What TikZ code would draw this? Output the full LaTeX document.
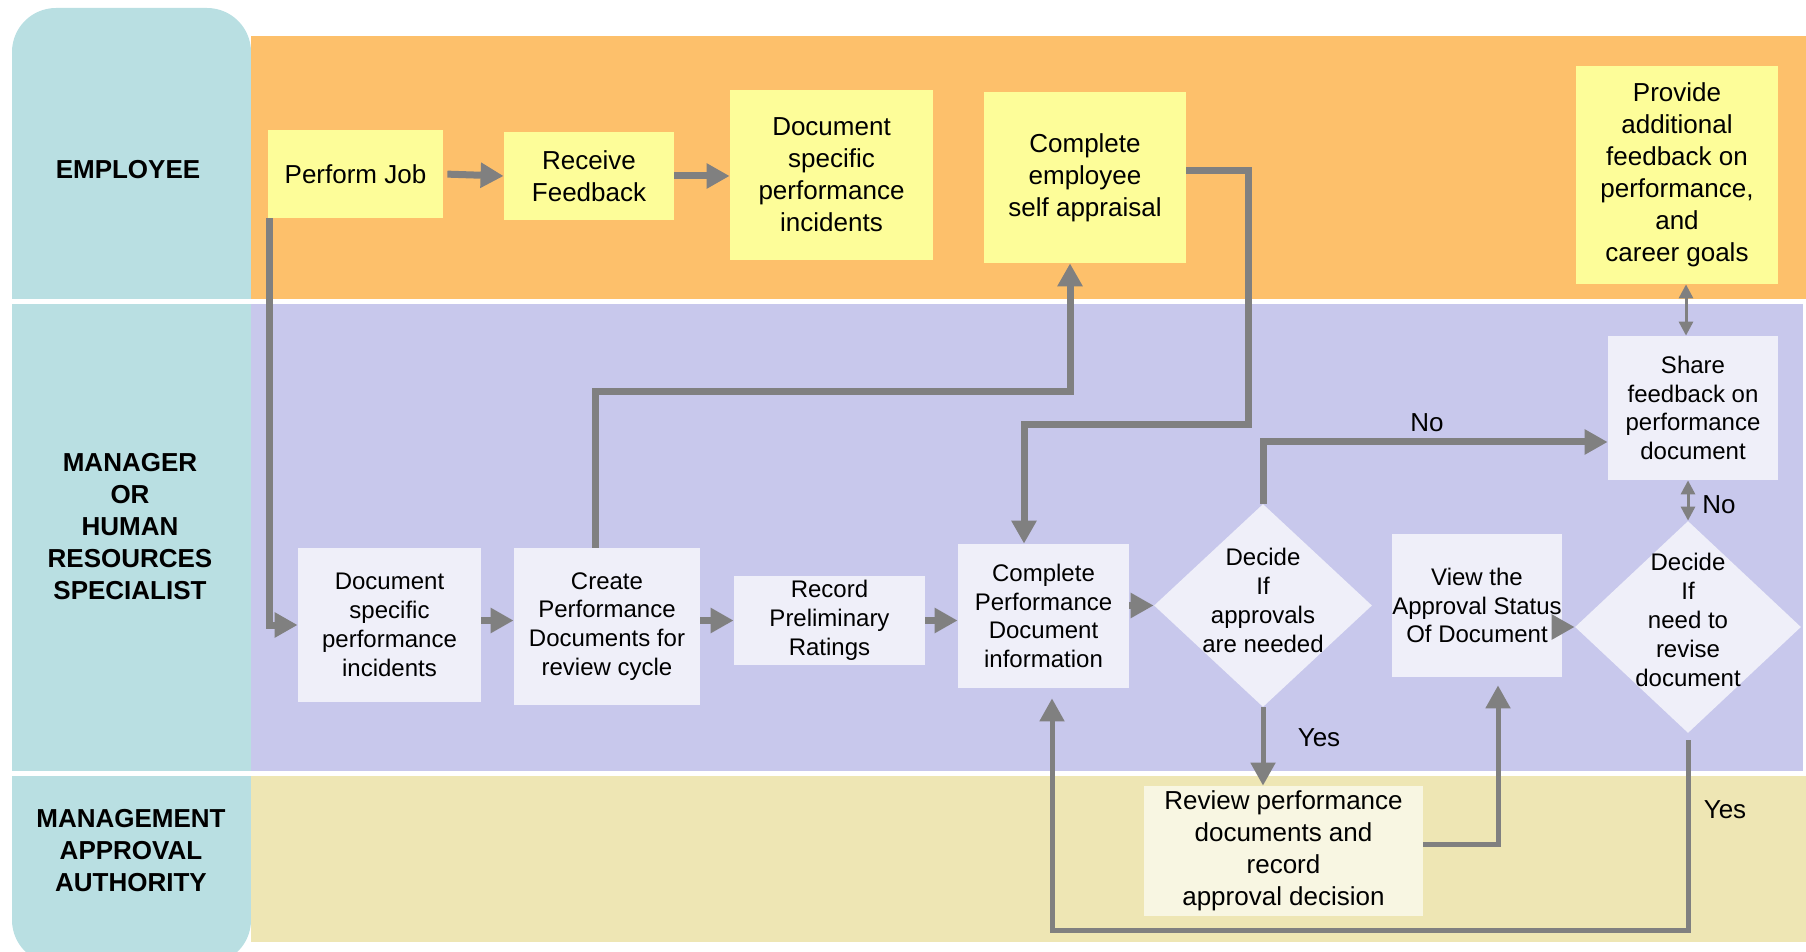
\documentclass[tikz,border=0pt]{standalone}
\usepackage{fontspec}
\setmainfont{Liberation Sans}
\usetikzlibrary{arrows.meta,shapes.geometric}
\definecolor{lanehead}{HTML}{B9DFE2}
\definecolor{emplane}{HTML}{FDC06B}
\definecolor{mgrlane}{HTML}{C8C8EC}
\definecolor{applane}{HTML}{EEE6B4}
\definecolor{notefill}{HTML}{FDFD99}
\definecolor{stepfill}{HTML}{EFEFF9}
\definecolor{reviewfill}{HTML}{F8F6E2}
\definecolor{flowgray}{HTML}{808080}
\newcommand{\bigsize}{\fontsize{13pt}{16pt}\selectfont}
\newcommand{\midsize}{\fontsize{12pt}{14.4pt}\selectfont}

\begin{document}
\begin{tikzpicture}[x=0.5pt,y=-0.5pt,
  lanetitle/.style={font=\bigsize\bfseries,align=center},
  notebox/.style={fill=notefill,inner sep=0pt,align=center,font=\bigsize},
  stepbox/.style={fill=stepfill,inner sep=0pt,align=center,font=\midsize},
  decision/.style={diamond,fill=stepfill,inner sep=0pt},
  flow/.style={draw=flowgray,line width=3.5pt,-{Triangle[length=11.5pt,width=12pt]}},
  medflow/.style={draw=flowgray,line width=2.5pt,-{Triangle[length=11.5pt,width=12pt]}},
  twoway/.style={draw=flowgray,line width=1.5pt,{Triangle[length=7pt,width=7pt]}-{Triangle[length=7pt,width=7pt]}},
  answer/.style={font=\bigsize}]
\useasboundingbox (0,0) rectangle (1806,952);

% swim lanes
\fill[lanehead,rounded corners=22pt] (12,8) rectangle (251,964);
\fill[emplane] (251,36) rectangle (1806,299);
\fill[mgrlane] (251,304) rectangle (1803,771);
\fill[applane] (251,776) rectangle (1806,942);
\fill[white] (12,299) rectangle (1806,304);
\fill[white] (12,771) rectangle (1806,776);

\node[lanetitle] (emp) at (128,170) {EMPLOYEE};
\node[lanetitle] (mgr) at (130,527) {MANAGER\\OR\\HUMAN\\RESOURCES\\SPECIALIST};
\node[lanetitle] (mgt) at (131,851) {MANAGEMENT\\APPROVAL\\AUTHORITY};

% employee
\node[notebox,minimum width=87.5pt,minimum height=44pt] (pj) at (355.5,174) {Perform Job};
\node[notebox,minimum width=85pt,minimum height=44pt] (rc) at (589,176) {Receive\\Feedback};
\node[notebox,minimum width=101.5pt,minimum height=85pt] (dt) at (831.5,175) {Document\\specific\\performance\\incidents};
\node[notebox,minimum width=101pt,minimum height=85.5pt] (sa) at (1085,177.5) {Complete\\employee\\self appraisal};
\node[notebox,minimum width=101pt,minimum height=109pt] (pa) at (1677,175) {Provide\\additional\\feedback on\\performance,\\and\\career goals};

% manager or hr
\node[stepbox,minimum width=91.5pt,minimum height=77pt] (dm) at (389.5,625) {Document\\specific\\performance\\incidents};
\node[stepbox,minimum width=93pt,minimum height=78.5pt] (cr) at (607,626.5) {Create\\Performance\\Documents for\\review cycle};
\node[stepbox,minimum width=95.5pt,minimum height=44.5pt] (rec) at (829.5,620.5) {Record\\Preliminary\\Ratings};
\node[stepbox,minimum width=85.5pt,minimum height=72pt] (cp) at (1043.5,616) {Complete\\Performance\\Document\\information};
\node[decision,minimum width=109pt,minimum height=101.5pt,
  label={[stepbox,fill=none,yshift=2.5pt]center:Decide\\If\\approvals\\are needed}] (d1) at (1263,605.5) {};
\node[stepbox,minimum width=85pt,minimum height=71.5pt] (vw) at (1477,605.5) {View the\\Approval Status\\Of Document};
\node[decision,minimum width=113pt,minimum height=106pt,
  label={[stepbox,fill=none,yshift=3.5pt]center:Decide\\If\\need to\\revise\\document}] (d2) at (1688,627) {};
\node[stepbox,minimum width=85pt,minimum height=72pt] (sh) at (1693,408) {Share\\feedback on\\performance\\document};

% approval authority
\node[notebox,fill=reviewfill,minimum width=139.5pt,minimum height=65pt] (rv) at (1283.5,851) {Review performance\\documents and\\record\\approval decision};

% connectors
\draw[flow,shorten <=2pt] (pj.east) -- (rc.west);
\draw[flow] (rc.east) -- (rc.east -| dt.west);
\draw[flow] ([xshift=1pt]pj.south west) |- (dm.west);
\draw[flow] (dm.east |- rec.west) -- (cr.west |- rec.west);
\draw[flow] (cr.east |- rec.west) -- (rec.west);
\draw[flow] (rec.east) -- (rec.east -| cp.west);
\draw[flow] (cp.east |- d1.west) -- (d1.west);
\draw[flow] (vw.east |- d2.west) -- (d2.west);
\draw[flow] ([xshift=-6pt]cr.north) |- (1070,392) -- ([xshift=-7.5pt]sa.south);
\draw[flow] ([yshift=3.5pt]sa.east) -| (1248,425) -| ([xshift=-9.75pt]cp.north);
\draw[flow] (d1.north) |- ([yshift=-17pt]sh.west);
\draw[twoway] ([xshift=-3.5pt]sh.north) -- ([xshift=-3.5pt]sh.north |- pa.south);
\draw[twoway] (d2.north |- sh.south) -- (d2.north);
\draw[medflow] (d1.south) -- (d1.south |- rv.north);
\draw[medflow,shorten >=4pt] ([yshift=3.5pt]rv.east) -| ([xshift=10.5pt]vw.south);
\draw[medflow,shorten >=5pt] ([yshift=-3.5pt]d2.south) |- (1052,930) -- ([xshift=4.25pt]cp.south);

\node[answer] (no1) at (1427,423) {No};
\node[answer] (no2) at (1719,505) {No};
\node[answer] (yes1) at (1319,738) {Yes};
\node[answer] (yes2) at (1725,810) {Yes};
\end{tikzpicture}
\end{document}
